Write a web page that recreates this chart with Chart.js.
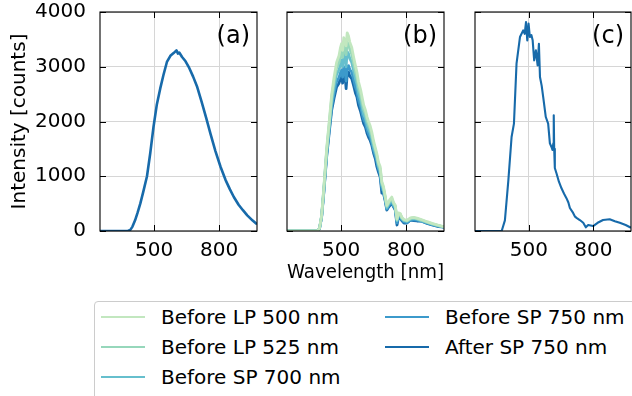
<!DOCTYPE html>
<html>
<head>
<meta charset="utf-8">
<script src="https://cdn.jsdelivr.net/npm/chart.js@4.4.1/dist/chart.umd.min.js"></script>
<style>
  body { margin: 0; background: #fff; width: 632px; height: 396px; overflow: hidden; position: relative; font-family: "DejaVu Sans", sans-serif; }
  canvas { position: absolute; top: 0; }
  #legend { position: absolute; left: 94px; top: 301px; width: 600px; height: 100px; border: 1px solid #cccccc; border-radius: 4px; box-sizing: border-box; }
  .item { position: absolute; height: 30px; display: flex; align-items: center; font-size: 20px; color: #000; white-space: nowrap; }
  .item span.ln { display: inline-block; width: 44px; height: 2px; margin-right: 16px; }
</style>
</head>
<body>
<canvas id="pa" width="262" height="300" style="left:0px"></canvas>
<canvas id="pb" width="169" height="300" style="left:280px"></canvas>
<canvas id="pc" width="168" height="300" style="left:468px"></canvas>
<div id="legend"></div>
<script>
// axis settings
const xMin = 250, xMax = 975;
const xTicks = [500, 800];
const yMax = 4000;

// (a) spectrum
const wlA = [250, 300, 350, 380, 390, 400, 412, 424, 436, 450, 467, 482, 497, 512, 528, 543, 559, 575, 590, 603, 610, 616, 629, 645, 660, 680, 699, 720, 740, 760, 783, 807, 830, 850, 868, 890, 910, 930, 955, 975];
const intA = [0, 0, 0, 5, 20, 80, 195, 340, 500, 720, 1000, 1420, 1900, 2300, 2600, 2850, 3087, 3200, 3250, 3300, 3240, 3260, 3178, 3100, 2995, 2820, 2630, 2350, 2070, 1778, 1460, 1169, 930, 760, 621, 480, 380, 286, 190, 122];

// (b) spectra, one per filter stage
const wlB = [250, 380, 392, 400, 410, 420, 433, 445, 456, 467, 479, 490, 497, 502, 507, 512, 518, 523, 528, 534, 540, 549, 558, 566, 573, 580, 590, 598, 604, 612, 620, 628, 634, 642, 650, 658, 665, 672, 680, 688, 695, 703, 711, 718, 726, 734, 742, 750, 758, 765, 773, 780, 790, 804, 820, 835, 850, 870, 897, 920, 950, 975];
const lp500 = [0, 0, 8, 50, 290, 790, 1500, 2000, 2480, 2800, 3080, 3200, 3350, 3420, 3300, 3530, 3480, 3380, 3620, 3560, 3450, 3350, 3170, 3020, 2900, 2730, 2580, 2420, 2300, 2210, 2080, 1980, 1920, 1800, 1640, 1520, 1410, 1260, 1180, 900, 820, 650, 470, 520, 580, 620, 520, 470, 220, 330, 320, 250, 210, 195, 240, 250, 235, 210, 170, 140, 105, 80];
const lp525 = [0, 0, 7, 47, 280, 770, 1460, 1950, 2420, 2720, 2980, 3080, 3210, 3280, 3170, 3400, 3340, 3220, 3450, 3420, 3320, 3230, 3050, 2900, 2800, 2630, 2490, 2330, 2220, 2140, 2010, 1920, 1860, 1740, 1590, 1480, 1370, 1220, 1140, 870, 790, 630, 450, 500, 560, 590, 500, 450, 205, 315, 305, 240, 200, 185, 230, 240, 225, 200, 162, 132, 100, 76];
const sp700 = [0, 0, 6, 45, 275, 750, 1430, 1900, 2340, 2620, 2860, 2940, 3050, 3120, 3000, 3230, 3180, 3000, 3275, 3240, 3150, 3080, 2920, 2780, 2680, 2520, 2390, 2240, 2130, 2060, 1930, 1840, 1790, 1680, 1530, 1430, 1320, 1180, 1090, 830, 760, 605, 425, 480, 530, 560, 475, 425, 190, 300, 290, 230, 190, 175, 215, 230, 215, 190, 155, 125, 95, 72];
const sp750 = [0, 0, 5, 42, 265, 720, 1390, 1850, 2260, 2510, 2730, 2800, 2890, 2940, 2810, 3000, 2960, 2740, 2990, 3020, 2950, 2900, 2760, 2630, 2550, 2400, 2270, 2130, 2040, 1970, 1850, 1760, 1720, 1610, 1470, 1370, 1270, 1140, 1040, 770, 730, 580, 400, 455, 500, 530, 450, 400, 150, 270, 265, 210, 165, 155, 200, 210, 200, 180, 145, 118, 88, 70];
const afterSp750 = [0, 0, 5, 40, 256, 700, 1350, 1800, 2200, 2420, 2630, 2700, 2780, 2812, 2700, 2880, 2843, 2600, 2860, 2904, 2830, 2782, 2650, 2520, 2447, 2300, 2180, 2050, 1960, 1900, 1780, 1700, 1656, 1560, 1420, 1320, 1175, 1080, 992, 694, 700, 560, 384, 430, 470, 511, 440, 384, 110, 250, 237, 190, 146, 146, 200, 190, 183, 183, 140, 110, 80, 73];

// (c) spectrum
const wlC = [250, 374, 389, 405, 420, 431, 443, 459, 474, 481, 487, 493, 499, 505, 512, 518, 525, 533, 541, 547, 552, 560, 567, 579, 590, 598, 606, 610, 614, 616, 618, 621, 629, 640, 652, 664, 675, 684, 691, 706, 715, 722, 737, 753, 765, 776, 799, 820, 845, 876, 900, 923, 950, 975];
const intC = [0, 0, 195, 925, 1717, 1960, 3056, 3543, 3665, 3600, 3817, 3482, 3787, 3543, 3580, 3482, 3117, 3300, 3026, 3421, 2813, 2650, 2447, 2082, 1960, 1601, 1530, 1480, 1600, 2112, 1500, 1150, 1050, 900, 780, 680, 600, 520, 420, 330, 262, 240, 200, 150, 67, 110, 90, 150, 200, 215, 180, 150, 110, 60];

const seriesNames = ['Before LP 500 nm', 'Before LP 525 nm', 'Before SP 700 nm', 'Before SP 750 nm', 'After SP 750 nm'];
const seriesColors = ['#c2e7bf', '#96d7bb', '#66bfcd', '#3c9acb', '#176aaa'];
const seriesB = [lp500, lp525, sp700, sp750, afterSp750];

const FONT = '"DejaVu Sans", sans-serif';

function pts(xs, ys) { return xs.map((x, i) => ({x: x, y: ys[i]})); }

// spines, inward ticks and the panel letter
const frame = {
  id: 'frame',
  afterDraw(chart, args, opts) {
    const {ctx, chartArea: a, scales} = chart;
    ctx.save();
    ctx.strokeStyle = '#000';
    ctx.lineWidth = 1.1;
    ctx.strokeRect(a.left, a.top, a.right - a.left, a.bottom - a.top);
    ctx.lineWidth = 1;
    ctx.beginPath();
    scales.x.ticks.forEach(t => {
      const px = Math.round(scales.x.getPixelForValue(t.value)) + 0.5;
      ctx.moveTo(px, a.bottom); ctx.lineTo(px, a.bottom - 6);
      ctx.moveTo(px, a.top); ctx.lineTo(px, a.top + 6);
    });
    scales.y.ticks.forEach(t => {
      const py = Math.round(scales.y.getPixelForValue(t.value)) + 0.5;
      ctx.moveTo(a.left, py); ctx.lineTo(a.left + 6, py);
      ctx.moveTo(a.right, py); ctx.lineTo(a.right - 6, py);
    });
    ctx.stroke();
    ctx.fillStyle = '#000';
    ctx.font = '24px ' + FONT;
    ctx.textAlign = 'right';
    ctx.textBaseline = 'alphabetic';
    ctx.fillText(opts.label, a.right - 7, a.top + 31);
    ctx.restore();
  }
};

function panel(id, label, datasets, yWidth, showY, xTitle, lw) {
  new Chart(document.getElementById(id), {
    type: 'line',
    data: { datasets: datasets },
    plugins: [frame],
    options: {
      responsive: false,
      animation: false,
      layout: { padding: { top: 12, right: 5, left: 0, bottom: 0 } },
      elements: { point: { radius: 0 }, line: { tension: 0, borderWidth: lw, borderJoinStyle: 'round' } },
      plugins: { legend: { display: false }, tooltip: { enabled: false }, frame: { label: label } },
      scales: {
        x: {
          type: 'linear', min: xMin, max: xMax,
          afterBuildTicks: s => { s.ticks = xTicks.map(v => ({value: v})); },
          afterFit: s => { s.height = 69; s.paddingLeft = 0; s.paddingRight = 0; },
          grid: { color: '#d6d6d6', lineWidth: 1, drawTicks: false },
          border: { display: false },
          ticks: { color: '#000', padding: 8, font: { family: FONT, size: 20 }, maxRotation: 0, callback: v => String(v) },
          title: { display: !!xTitle, text: xTitle || '', color: '#000', font: { family: FONT, size: 20, lineHeight: 1.2 }, padding: { bottom: 15 } }
        },
        y: {
          min: 0, max: yMax,
          afterFit: s => { s.width = yWidth; s.paddingTop = 0; s.paddingBottom = 0; },
          grid: { color: '#d6d6d6', lineWidth: 1, drawTicks: false },
          border: { display: false },
          ticks: { display: showY, stepSize: 1000, color: '#000', padding: 14, font: { family: FONT, size: 20 }, callback: v => String(v) },
          title: { display: showY, text: 'Intensity [counts]', color: '#000', font: { family: FONT, size: 20, lineHeight: 1.2 }, padding: { top: 8 } }
        }
      }
    }
  });
}

const mainColor = seriesColors[4];

panel('pa', '(a)', [{ data: pts(wlA, intA), borderColor: mainColor }], 100, true, null, 2.6);
panel('pb', '(b)', seriesB.map((ys, i) => ({ label: seriesNames[i], data: pts(wlB, ys), borderColor: seriesColors[i] })), 7, false, 'Wavelength [nm]', 2.8);
panel('pc', '(c)', [{ data: pts(wlC, intC), borderColor: mainColor }], 7, false, null, 2.1);

// legend in two columns
const legend = document.getElementById('legend');
const colX = [6, 290];
const rowY = [0, 30, 60];
seriesNames.forEach((name, i) => {
  const col = i < 3 ? 0 : 1;
  const row = i < 3 ? i : i - 3;
  const el = document.createElement('div');
  el.className = 'item';
  el.style.left = colX[col] + 'px';
  el.style.top = rowY[row] + 'px';
  el.innerHTML = '<span class="ln" style="background:' + seriesColors[i] + '"></span>' + name;
  legend.appendChild(el);
});
</script>
</body>
</html>
